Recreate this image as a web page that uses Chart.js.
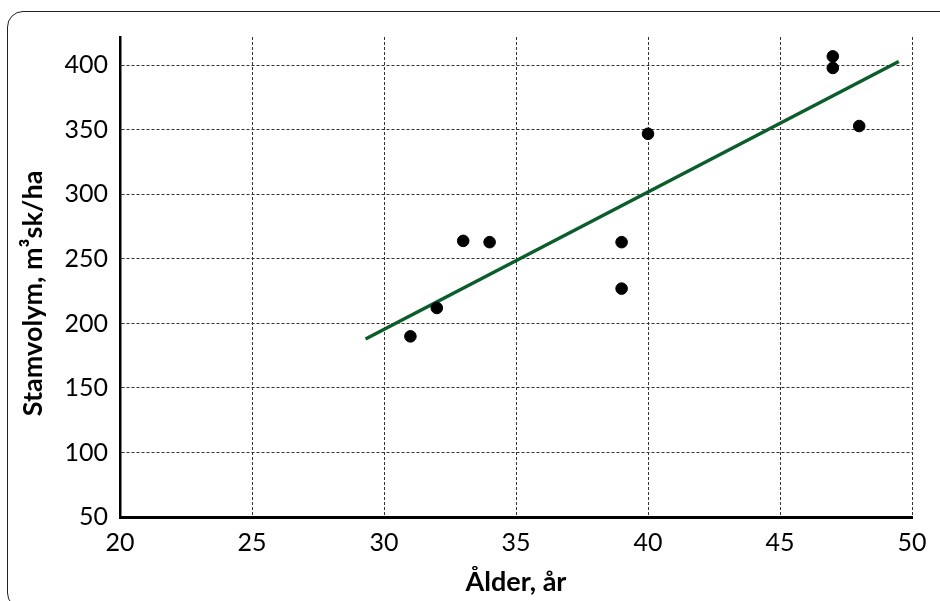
<!DOCTYPE html>
<html>
<head>
<meta charset="utf-8">
<script src="https://cdn.jsdelivr.net/npm/chart.js@4"></script>
<style>
  html, body { margin: 0; padding: 0; background: #fff; overflow: hidden; }
  #frame {
    position: absolute; left: 7px; top: 11px; width: 960px; height: 596px;
    border: 1.5px solid #222; border-radius: 16px;
  }
  #wrap { position: absolute; left: 0; top: 0; width: 940px; height: 601px; }
</style>
</head>
<body>
<div id="frame"></div>
<div id="wrap"><canvas id="chart" width="940" height="601"></canvas></div>
<script>
// --- Data ---
const ageYears = [31, 32, 33, 34, 39, 39, 40, 47, 47, 48];
const stemVolume = [190, 212, 264, 263, 263, 227, 347, 407, 398, 353];
const trendAge = [29.3, 49.5];
const trendVolume = [188, 403];
const xTicks = [20, 25, 30, 35, 40, 45, 50];
const yTicks = [50, 100, 150, 200, 250, 300, 350, 400];

const fontFamily = 'Lato, "Open Sans", sans-serif';

const ctx = document.getElementById('chart').getContext('2d');
new Chart(ctx, {
    type: 'scatter',
    data: {
        datasets: [
            {
                label: 'Stamvolym',
                data: ageYears.map((a, i) => ({ x: a, y: stemVolume[i] })),
                backgroundColor: '#000',
                borderColor: '#000',
                pointRadius: 5.8,
                order: 1
            },
            {
                type: 'line',
                label: 'Trend',
                data: trendAge.map((a, i) => ({ x: a, y: trendVolume[i] })),
                borderColor: '#0b5d2c',
                borderWidth: 3.5,
                pointRadius: 0,
                fill: false,
                order: 2
            }
        ]
    },
    options: {
        responsive: false,
        animation: false,
        layout: { padding: { top: 37, right: 28, left: 0, bottom: 0 } },
        plugins: {
            legend: { display: false },
            tooltip: { enabled: false }
        },
        scales: {
            x: {
                type: 'linear',
                min: 20,
                max: 50,
                afterBuildTicks: axis => { axis.ticks = xTicks.map(v => ({ value: v })); },
                afterFit: scale => { scale.height = 84; },
                ticks: {
                    color: '#000',
                    font: { family: fontFamily, size: 25 },
                    padding: 11,
                    maxRotation: 0
                },
                grid: { color: '#333', lineWidth: 1, drawTicks: false },
                border: { color: '#000', width: 3, dash: [3, 2] },
                title: {
                    display: true,
                    text: 'Ålder, år',
                    color: '#000',
                    font: { family: fontFamily, size: 27, weight: 'bold' },
                    padding: { top: 0, bottom: 3 }
                }
            },
            y: {
                type: 'linear',
                min: 50,
                max: 422,
                afterBuildTicks: axis => { axis.ticks = yTicks.map(v => ({ value: v })); },
                afterFit: scale => { scale.width = 120; },
                ticks: {
                    color: '#000',
                    font: { family: fontFamily, size: 25 },
                    padding: 12
                },
                grid: { color: '#333', lineWidth: 1, drawTicks: false },
                border: { color: '#000', width: 2.5, dash: [3, 2] },
                title: {
                    display: true,
                    // trailing spaces nudge the title a bit lower, as in the original
                    text: 'Stamvolym, m³sk/ha     ',
                    color: '#000',
                    font: { family: fontFamily, size: 27, weight: 'bold' },
                    padding: { top: 17, bottom: 0 }
                }
            }
        }
    }
});
</script>
</body>
</html>
